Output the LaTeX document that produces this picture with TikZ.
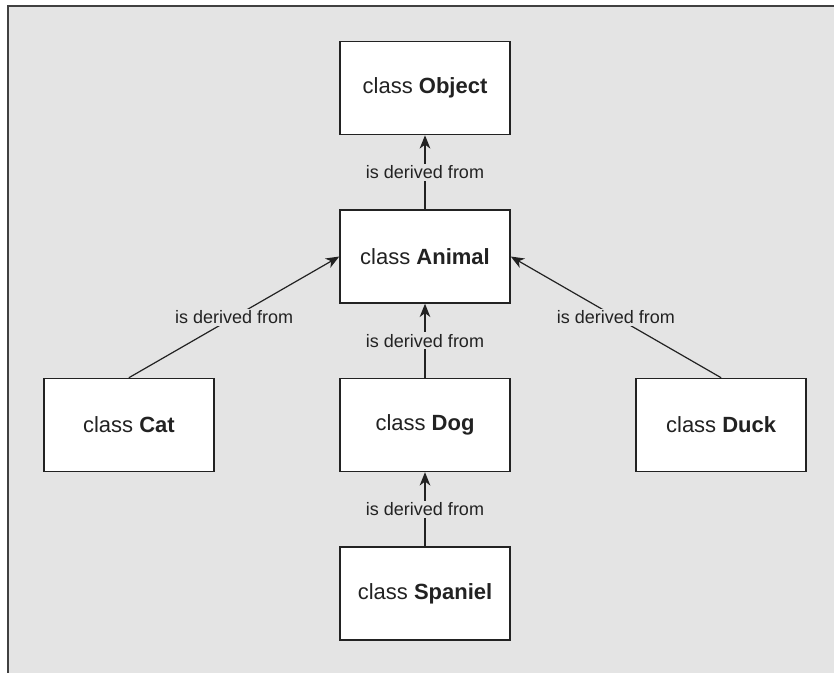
\documentclass[tikz,border=0pt]{standalone}
\usepackage{fontspec}
\setmainfont{Liberation Sans}
\usetikzlibrary{positioning,arrows.meta}
\definecolor{panelgrey}{HTML}{E4E4E4}
\definecolor{inkgrey}{HTML}{222222}

\begin{document}
\begin{tikzpicture}[
    x=0.75pt, y=-0.75pt,
    node distance=55.5pt and 93.5pt,
    cls/.style={draw=inkgrey, line width=1.1pt, fill=white, minimum width=127.5pt, minimum height=69.75pt, align=center, text=inkgrey, font=\fontsize{16.5}{19}\selectfont},
    arrow/.style={-{Stealth[length=10pt,width=8pt,inset=3pt]}, line width=0.9pt, draw=inkgrey},
    lbl/.style={fill=panelgrey, inner sep=1.5pt, text=inkgrey, font=\fontsize{13.5}{16}\selectfont}
]
\clip (0,0) rectangle (834,672);
\fill[white] (0,0) rectangle (834,672);
\draw[fill=panelgrey, draw=black!75, line width=1.5pt] (8,6) rectangle (860,700);

\node[cls] (animal) at (425,256.5) {class \textbf{Animal}};
\node[cls, above=of animal] (object) {class \textbf{Object}};
\node[cls, below=of animal] (dog) {class \textbf{Dog}};
\node[cls, left=of dog] (cat) {class \textbf{Cat}};
\node[cls, right=of dog] (duck) {class \textbf{Duck}};
\node[cls, below=of dog] (spaniel) {class \textbf{Spaniel}};

\draw[arrow] (animal) -- node[lbl]{is derived from} (object);
\draw[arrow] (cat.north) -- node[lbl]{is derived from} (animal.west);
\draw[arrow] (dog) -- node[lbl]{is derived from} (animal);
\draw[arrow] (duck.north) -- node[lbl]{is derived from} (animal.east);
\draw[arrow] (spaniel) -- node[lbl]{is derived from} (dog);
\end{tikzpicture}
\end{document}
